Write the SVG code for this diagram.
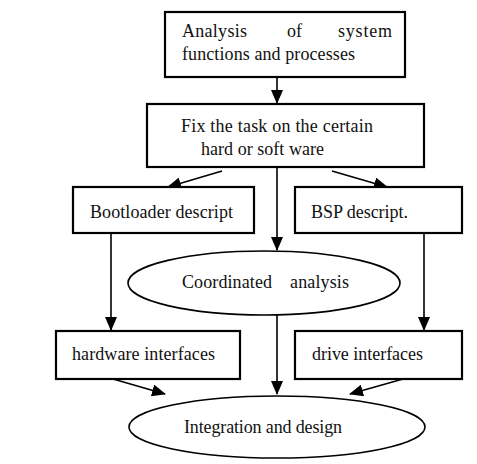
<svg xmlns="http://www.w3.org/2000/svg" width="477" height="464" viewBox="0 0 477 464">
<style>
.box{fill:#fff;stroke:#000;stroke-width:2.2}
.ell{fill:#fff;stroke:#000;stroke-width:1.6}
.t{font-family:"Liberation Serif","Times New Roman",serif;font-size:18px;fill:#111}
.c{stroke:#000;stroke-width:1.6;fill:none;marker-end:url(#ah)}
</style>
<defs>
<marker id="ah" markerUnits="userSpaceOnUse" markerWidth="14" markerHeight="12" refX="13" refY="6" orient="auto">
<path d="M0,0 L14,6 L0,12 Z" fill="#000"/>
</marker>
</defs>
<rect width="477" height="464" fill="#fff"/>
<g id="connectors">
<line class="c" x1="277" y1="77" x2="277" y2="103"/>
<line class="c" x1="222" y1="171" x2="168" y2="187"/>
<line class="c" x1="332" y1="171" x2="387" y2="187"/>
<line class="c" x1="277" y1="167" x2="277" y2="250"/>
<line class="c" x1="111" y1="233" x2="111" y2="330"/>
<line class="c" x1="424" y1="233" x2="424" y2="330"/>
<line class="c" x1="277" y1="315" x2="277" y2="394"/>
<line class="c" x1="113" y1="379" x2="165" y2="394"/>
<line class="c" x1="403" y1="379" x2="350" y2="394"/>
</g>
<g id="n1">
<rect class="box" x="165" y="12" width="240" height="65"/>
<text class="t" x="182" y="37" textLength="65">Analysis</text>
<text class="t" x="287" y="37">of</text>
<text class="t" x="338" y="37" textLength="54">system</text>
<text class="t" x="182" y="60" textLength="173">functions and processes</text>
</g>
<g id="n2">
<rect class="box" x="147" y="104" width="277" height="63"/>
<text class="t" x="181" y="132" textLength="192">Fix the task on the certain</text>
<text class="t" x="201" y="155" textLength="123">hard or soft ware</text>
</g>
<g id="n3">
<rect class="box" x="73" y="187" width="181" height="46"/>
<text class="t" x="90" y="218" textLength="143">Bootloader descript</text>
</g>
<g id="n4">
<rect class="box" x="295" y="187" width="167" height="46"/>
<text class="t" x="311" y="218" textLength="97">BSP descript.</text>
</g>
<g id="n5">
<ellipse class="ell" cx="264" cy="283" rx="136" ry="32"/>
<text class="t" x="182" y="288" textLength="90">Coordinated</text>
<text class="t" x="290" y="288" textLength="59">analysis</text>
</g>
<g id="n6">
<rect class="box" x="56" y="331" width="184" height="48"/>
<text class="t" x="72" y="360" textLength="143">hardware interfaces</text>
</g>
<g id="n7">
<rect class="box" x="295" y="331" width="167" height="48"/>
<text class="t" x="312" y="360" textLength="111">drive interfaces</text>
</g>
<g id="n8">
<ellipse class="ell" cx="277" cy="427" rx="148" ry="31"/>
<text class="t" x="184" y="433" textLength="158">Integration and design</text>
</g>
</svg>
